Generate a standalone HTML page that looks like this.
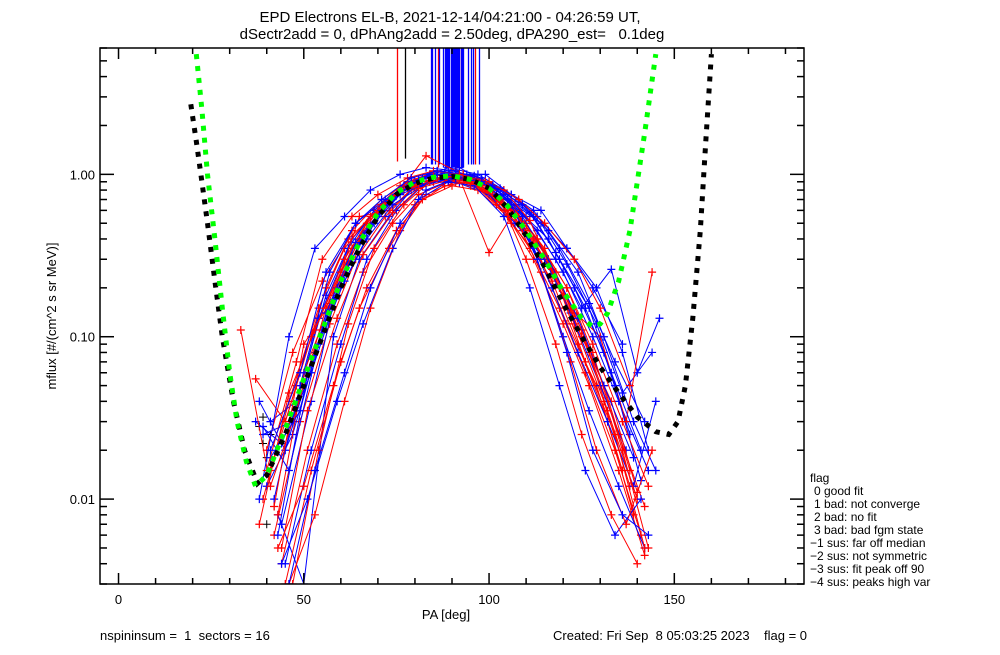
<!DOCTYPE html>
<html><head><meta charset="utf-8"><style>
body{margin:0;background:#fff;}
svg text{font-family:"Liberation Sans",sans-serif;fill:#000;white-space:pre;}
</style></head><body>
<svg id="c" width="1000" height="650" xmlns="http://www.w3.org/2000/svg">
<text x="450" y="22" font-size="15" text-anchor="middle">EPD Electrons EL-B, 2021-12-14/04:21:00 - 04:26:59 UT,</text>
<text x="452" y="39" font-size="15" text-anchor="middle">dSectr2add = 0, dPhAng2add = 2.50deg, dPA290_est=   0.1deg</text>
<text x="446" y="619" font-size="13" text-anchor="middle">PA [deg]</text>
<text transform="translate(56,316) rotate(-90)" font-size="13" text-anchor="middle">mflux [#/(cm^2 s sr MeV)]</text>
<text x="100" y="640" font-size="13">nspininsum =  1  sectors = 16</text>
<text x="553" y="640" font-size="13">Created: Fri Sep  8 05:03:25 2023    flag = 0</text>
<g id="legend" font-size="12">
<text x="810" y="482">flag</text>
<text x="814" y="495">0 good fit</text>
<text x="814" y="508">1 bad: not converge</text>
<text x="814" y="521">2 bad: no fit</text>
<text x="814" y="534">3 bad: bad fgm state</text>
<text x="810" y="547">−1 sus: far off median</text>
<text x="810" y="560">−2 sus: not symmetric</text>
<text x="810" y="573">−3 sus: fit peak off 90</text>
<text x="810" y="586">−4 sus: peaks high var</text>
</g>
<g id="plot"></g>
</svg>
<script>
const xTicks=[0,50,100,150];
const yTicks=[0.01,0.1,1];
const yTickLabels=["0.01","0.10","1.00"];
const blackFitPA=[19.5,21,22.5,24,26,28,31,34,37.5,40,45,50,55,60,65,70,75,80,85,90,95,100,105,110,115,120,125,130,135,140,145,148.5,151,153,155,157,158.5,160];
const blackFitF=[2.7,1.6,0.9,0.5,0.22,0.1,0.04,0.02,0.0125,0.014,0.025,0.05,0.1,0.2,0.35,0.55,0.75,0.88,0.95,0.97,0.93,0.82,0.62,0.42,0.27,0.16,0.1,0.065,0.045,0.032,0.026,0.025,0.03,0.05,0.13,0.45,1.6,5.5];
const greenFitPA=[21,22.5,24,26,28,30,32,34.5,37,40,45,50,55,60,65,70,75,80,85,90,95,100,105,110,115,120,125,128,130,132,135,138,140,142,144,145];
const greenFitF=[5.5,2.5,1.0,0.4,0.15,0.06,0.03,0.017,0.012,0.014,0.027,0.055,0.11,0.22,0.38,0.58,0.77,0.9,0.96,0.98,0.93,0.82,0.64,0.45,0.3,0.19,0.13,0.115,0.12,0.14,0.22,0.45,0.9,1.8,3.8,5.5];
const redPA=[
[42,49,57,64,72,79,87,94,102,109,117,124,132,139],
[39,46,54,61,69,76,84,91,99,106,114,121,129,136],
[44,51,59,66,74,81,89,96,104,111,119,126,134,141],
[41,48,56,63,71,78,86,93,101,108,116,123,131,138],
[37,45,52,60,67,75,82,90,97,105,112,120,127,135,142],
[43,50,58,65,73,80,88,95,103,110,118,125,133,140],
[40,47,55,62,70,77,85,92,100,107,115,122,130,137,144],
[45,52,60,67,75,82,90,97,105,112,120,127,135,142],
[38,46,53,61,68,76,83,91,98,106,113,121,128,136,143],
[33,41,48,56,63,71,78,86,93,101,108,116,123,131,138],
[42,50,57,65,72,80,87,95,102,110,117,125,132,140],
[44,51,59,66,74,81,89,96,104,111,119,126,134,142],
[46,53,61,68,76,83,91,98,106,113,121,128,136,143],
[40,48,55,63,70,78,85,93,100,108,115,123,130,138],
[43,50,58,65,73,80,88,95,103,110,118,125,133,140],
[47,54,62,69,77,84,92,99,107,114,122,129,137,144]];
const redF=[
[0.006,0.03,0.12,0.3,0.55,0.8,0.95,0.9,0.7,0.45,0.22,0.09,0.03,0.008],
[0.01,0.04,0.15,0.35,0.6,0.85,1.0,0.95,0.8,0.5,0.3,0.12,0.05,0.015],
[0.004,0.02,0.09,0.25,0.5,0.75,0.9,0.88,0.6,0.35,0.15,0.06,0.02,0.006],
[0.015,0.05,0.2,0.45,0.7,0.9,1.05,1.0,0.75,0.5,0.28,0.12,0.04,0.012],
[0.055,0.03,0.1,0.25,0.5,0.75,0.9,1.0,0.85,0.6,0.4,0.18,0.08,0.025,0.009],
[0.008,0.06,0.18,0.55,0.6,0.85,0.95,0.85,0.7,0.5,0.25,0.1,0.04,0.011],
[0.02,0.08,0.22,0.4,0.6,0.8,0.9,0.95,0.33,0.6,0.35,0.15,0.1,0.03,0.25],
[0.003,0.015,0.07,0.2,0.45,0.7,0.85,0.8,0.55,0.3,0.12,0.05,0.015,0.0045],
[0.007,0.045,0.11,0.3,0.55,0.8,1.3,1.05,0.9,0.65,0.4,0.2,0.09,0.03,0.012],
[0.11,0.012,0.035,0.15,0.35,0.65,0.85,0.95,1.0,0.8,0.55,0.3,0.14,0.05,0.015],
[0.009,0.09,0.16,0.4,0.65,0.9,1.0,0.9,0.65,0.45,0.26,0.11,0.035,0.01],
[0.005,0.035,0.13,0.32,0.58,0.82,0.92,0.95,0.8,0.52,0.2,0.07,0.025,0.005],
[0.003,0.008,0.04,0.15,0.45,0.75,0.9,0.85,0.6,0.4,0.2,0.08,0.02,0.005],
[0.015,0.07,0.3,0.55,0.75,0.95,1.05,1.0,0.9,0.7,0.5,0.3,0.15,0.05],
[0.005,0.012,0.05,0.15,0.35,0.65,0.85,0.9,0.7,0.3,0.09,0.025,0.008,0.004],
[0.003,0.02,0.12,0.35,0.65,0.9,1.0,0.9,0.55,0.25,0.07,0.02,0.007,0.02]];
const bluePA=[
[41,48,56,63,71,78,86,93,101,108,116,123,131,138],
[38,45,53,60,68,75,83,90,98,105,113,120,128,135,143],
[43,50,58,65,73,80,88,95,103,110,118,125,133,140,146],
[39,47,54,62,69,77,84,92,99,107,114,121,129,136,144],
[40,47,55,62,70,77,85,92,100,107,115,122,130,137],
[44,52,59,67,74,82,89,97,104,112,119,127,134,142],
[37,44,52,59,67,74,82,89,97,104,112,119,127,134,141],
[42,49,57,64,72,79,87,94,102,109,117,124,132,139,145],
[45,52,60,67,75,82,90,97,105,112,120,127,135,142],
[39,46,54,61,69,76,84,91,99,106,114,121,129,136,143],
[41,49,56,64,71,79,86,94,101,109,116,124,131,139],
[43,51,58,66,73,81,88,96,103,111,118,126,133,141],
[38,46,53,61,68,76,83,91,98,106,113,121,128,136],
[44,51,59,66,74,81,89,96,104,111,119,126,134,141],
[41,49,56,64,71,79,86,94,101,109,116,124,131,139,145],
[46,53,61,68,76,83,91,98,106,113,121,128,136,143]];
const blueF=[
[0.03,0.04,0.18,0.4,0.65,0.9,1.0,1.0,0.85,0.6,0.4,0.2,0.08,0.025],
[0.04,0.02,0.08,0.25,0.5,0.75,0.95,1.05,0.95,0.7,0.45,0.25,0.1,0.04,0.015],
[0.008,0.003,0.1,0.3,0.55,0.85,0.95,0.95,0.8,0.55,0.3,0.15,0.26,0.06,0.13],
[0.025,0.03,0.13,0.35,0.6,0.85,1.0,1.1,0.9,0.65,0.5,0.28,0.12,0.045,0.08],
[0.012,0.025,0.11,0.28,0.55,0.8,0.9,0.88,0.75,0.5,0.3,0.14,0.05,0.02],
[0.007,0.04,0.2,0.45,0.7,0.95,1.1,1.0,0.8,0.6,0.35,0.16,0.07,0.03],
[0.03,0.022,0.06,0.18,0.4,0.65,0.85,0.95,0.9,0.75,0.55,0.3,0.15,0.05,0.013],
[0.01,0.05,0.25,0.5,0.7,0.9,1.0,0.95,0.75,0.5,0.2,0.08,0.03,0.012,0.04],
[0.004,0.02,0.09,0.3,0.6,0.85,0.95,0.9,0.7,0.35,0.1,0.035,0.012,0.005],
[0.028,0.015,0.09,0.22,0.5,0.75,0.9,1.0,1.0,0.75,0.6,0.35,0.2,0.08,0.02],
[0.018,0.035,0.14,0.38,0.6,0.88,1.0,0.97,0.85,0.55,0.3,0.13,0.05,0.018],
[0.006,0.06,0.17,0.42,0.68,0.92,1.02,0.98,0.82,0.58,0.33,0.15,0.06,0.02],
[0.01,0.1,0.35,0.55,0.8,1.0,1.1,1.05,0.9,0.75,0.55,0.35,0.2,0.09],
[0.004,0.01,0.04,0.12,0.35,0.7,0.9,0.85,0.55,0.2,0.05,0.015,0.006,0.01],
[0.02,0.06,0.25,0.5,0.7,0.95,1.05,1.0,0.85,0.65,0.45,0.25,0.1,0.03,0.015],
[0.003,0.015,0.06,0.2,0.5,0.8,0.95,0.9,0.65,0.3,0.08,0.02,0.008,0.006]];
const errBluePA=[84.2,84.6,85.3,86.5,87.6,88.1,88.4,88.7,89.0,89.3,89.6,89.9,90.2,90.5,90.8,91.1,91.4,91.7,92.0,92.3,92.6,93.1,94.2,95.0,95.8,97.2];
const errBlueF=[1.15,1.15,1.15,1.15,1.1,1.1,1.1,1.1,1.1,1.1,1.1,1.1,1.1,1.1,1.1,1.1,1.1,1.1,1.1,1.1,1.1,1.1,1.15,1.15,1.15,1.15];
const errRedPA=[75.2,86.1,88.5,91.9,96.3];
const errRedF=[1.2,1.1,1.1,1.1,1.15];
const errBlackPA=[77.3];
const errBlackF=[1.25];

const L=100,R=804,T=48,B=584,xmin=-5,xmax=185,lymin=Math.log10(0.003),lymax=Math.log10(6);
const X=v=>L+(v-xmin)/(xmax-xmin)*(R-L);
const Y=v=>B-(Math.log10(v)-lymin)/(lymax-lymin)*(B-T);
const NS="http://www.w3.org/2000/svg";
const plot=document.getElementById('plot');
function mk(t,a,p){const e=document.createElementNS(NS,t);for(const k in a)e.setAttribute(k,a[k]);(p||plot).appendChild(e);return e;}
const clip=mk('clipPath',{id:'cp'});mk('rect',{x:L,y:T,width:R-L,height:B-T},clip);
const data=mk('g',{'clip-path':'url(#cp)'});


function series(pas,fs,col,name){
  for(let i=0;i<pas.length;i++){
    const pts=pas[i].map((p,j)=>X(p).toFixed(1)+','+Y(fs[i][j]).toFixed(1)).join(' ');
    const pl=mk('polyline',{points:pts,fill:'none',stroke:col,'stroke-width':1},data);
    
    
    pas[i].forEach((p,j)=>{const x=X(p),y=Y(fs[i][j]);
      const m=mk('path',{d:`M${x-4},${y}H${x+4}M${x},${y-4}V${y+4}`,stroke:col,'stroke-width':1.2},data);
      
      });
  }
}
function errs(pas,fs,col,name){pas.forEach((p,i)=>{const x=Math.round(X(p))+0.5;
  const l=mk('line',{x1:x,x2:x,y1:T,y2:Y(fs[i]),stroke:col,'stroke-width':1.3},data);
  
  });}
errs(errBlackPA,errBlackF,'#000','error-bar-black');
errs(errRedPA,errRedF,'#f00','error-bar-red');
errs(errBluePA,errBlueF,'#00f','error-bar-blue');
const blkX=[38,39,40,41,42,40,39];const blkY=[0.028,0.022,0.018,0.025,0.009,0.007,0.032];
blkX.forEach((p,i)=>{const x=X(p),y=Y(blkY[i]);const m=mk('path',{d:`M${x-4},${y}H${x+4}M${x},${y-4}V${y+4}`,stroke:'#000'},data);

});
for(let k=0;k<redPA.length;k++){series([redPA[k]],[redF[k]],'#f00','red-sector');if(k<bluePA.length)series([bluePA[k]],[blueF[k]],'#00f','blue-sector');}
function fit(pa,f,col,name){const pts=pa.map((p,i)=>X(p).toFixed(1)+','+Y(f[i]).toFixed(1)).join(' ');
  const pl=mk('polyline',{points:pts,fill:'none',stroke:col,'stroke-width':5,'stroke-dasharray':'5,7'},data);
  
  }
fit(blackFitPA,blackFitF,'#000','black-fit-curve');
fit(greenFitPA,greenFitF,'#0f0','green-fit-curve');
const ax=mk('g',{stroke:'#000','stroke-width':1.5,fill:'none'});


mk('rect',{x:L,y:T,width:R-L,height:B-T},ax);
for(let v=0;v<=180;v+=10){const x=X(v);const len=v%50==0?11:6;
  mk('line',{x1:x,x2:x,y1:B,y2:B-len},ax);mk('line',{x1:x,x2:x,y1:T,y2:T+len},ax);}
xTicks.forEach(v=>{const t=mk('text',{x:X(v),y:B+20,'font-size':13,'text-anchor':'middle',stroke:'none'});t.textContent=v;

});
for(let d=-3;d<=0;d++)for(let m=1;m<10;m++){const v=m*Math.pow(10,d);if(v<0.003||v>6)continue;const y=Y(v);const len=m==1?14:7;
  mk('line',{x1:L,x2:L+len,y1:y,y2:y},ax);mk('line',{x1:R,x2:R-len,y1:y,y2:y},ax);}
yTicks.forEach((v,i)=>{const t=mk('text',{x:L-5,y:Y(v)+5,'font-size':13,'text-anchor':'end',stroke:'none'});t.textContent=yTickLabels[i];

});
</script>
</body></html>
